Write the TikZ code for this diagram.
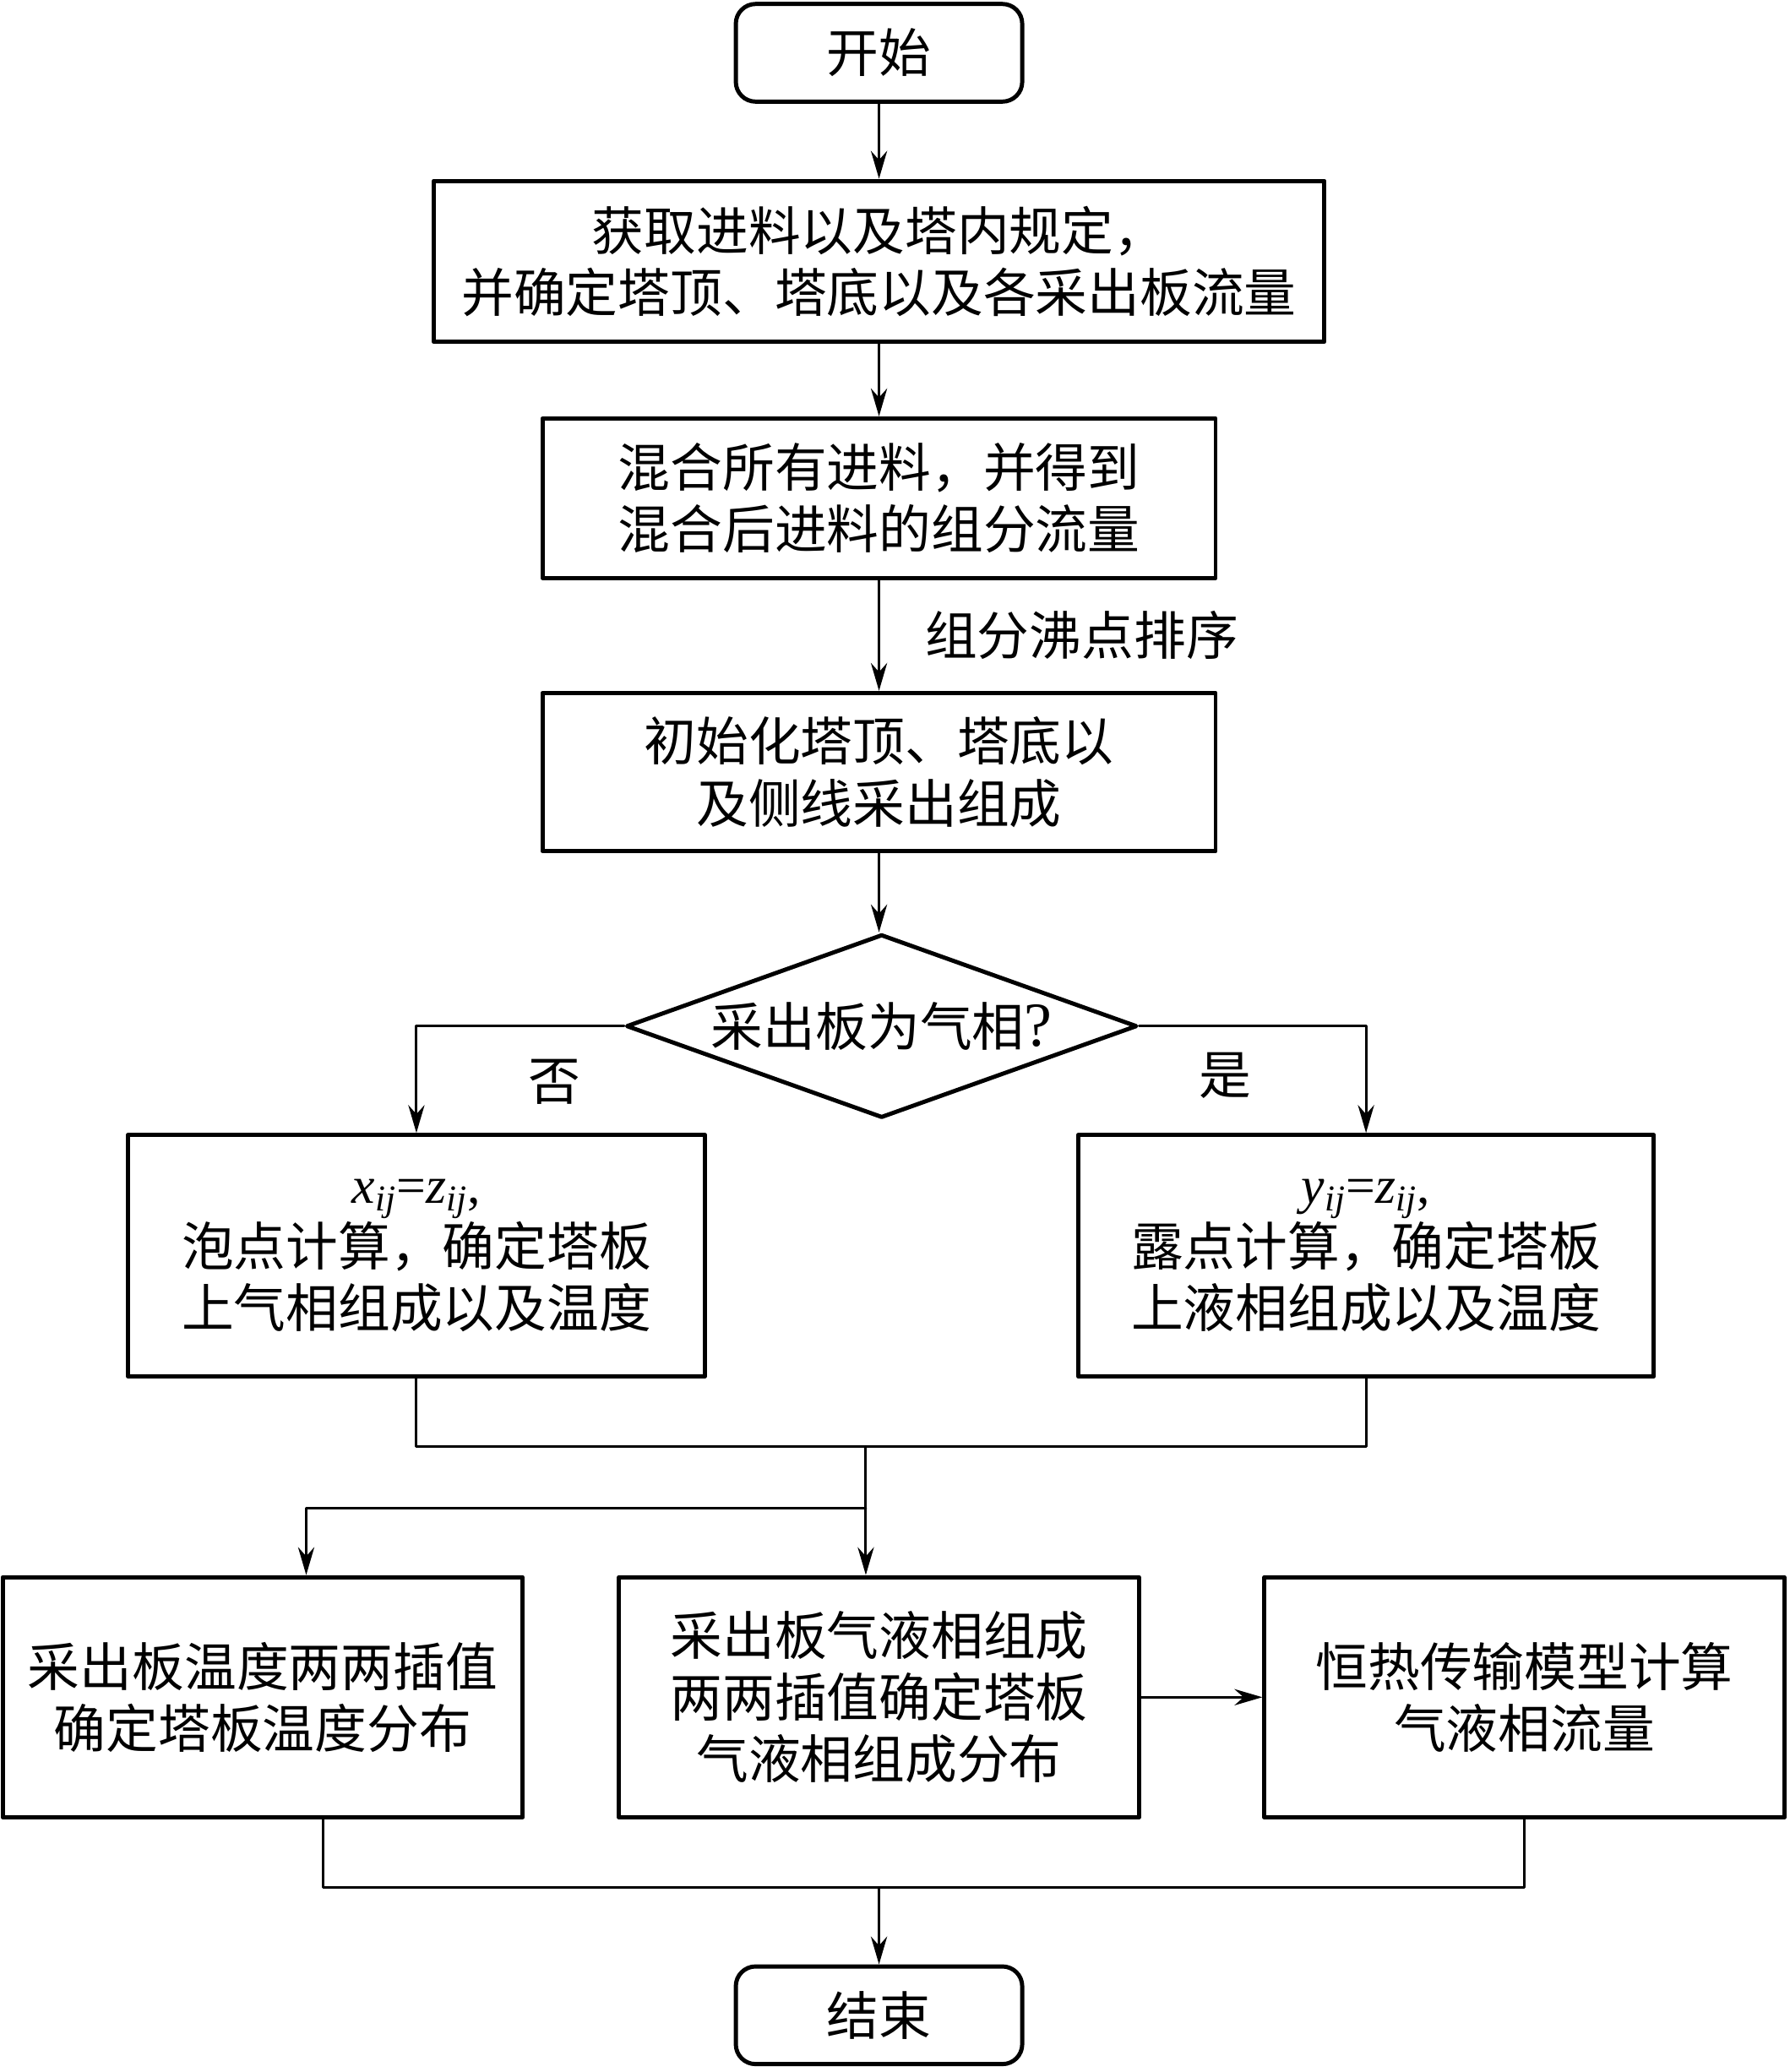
\documentclass[tikz,border=0pt]{standalone}
\usepackage{fontspec}
\setmainfont{Liberation Serif}
\newfontfamily\cjk{Noto Sans CJK SC}
\usepackage{tikz}
\usetikzlibrary{positioning}
\usetikzlibrary{shapes.geometric}
\usetikzlibrary{arrows.meta}

\newcommand{\pxu}{0.02cm}

\begin{document}
\begin{tikzpicture}[x=0.02cm, y=-0.02cm, line cap=round, line join=round,
    font=\cjk\fontsize{22.5}{26.7}\selectfont,
    box/.style={draw, line width=1.8pt, align=center, inner sep=0pt},
    term/.style={box, rounded corners=0.3cm, minimum width=217*\pxu, minimum height=74*\pxu},
    choice/.style={box, diamond, shape aspect=2.78, minimum width=387*\pxu, minimum height=139*\pxu},
    link/.style={line width=1.1pt},
    arrow/.style={link, -{Stealth[length=12pt, width=7pt]}}]
    % frame
    \useasboundingbox (0,0) rectangle (1356,1570);

    % main column
    \node[term] (start) at (666,40) {开始};
    \node[box, minimum width=675*\pxu, minimum height=122*\pxu] (feed) at (666,198)
        {获取进料以及塔内规定，\\并确定塔顶、塔底以及各采出板流量};
    \node[box, minimum width=510*\pxu, minimum height=121*\pxu] (mix) at (666,377.5)
        {混合所有进料，并得到\\混合后进料的组分流量};
    \node[box, minimum width=510*\pxu, minimum height=120*\pxu] (init) at (666,585)
        {初始化塔顶、塔底以\\及侧线采出组成};
    \node[choice] (phase) at (668,777.5) {采出板为气相{\rmfamily\fontsize{27}{27}\selectfont ?}};

    % two branches
    \node[box, minimum width=437*\pxu, minimum height=183*\pxu] (bubble) at (315.5,951.5)
        {{\rmfamily\textit{x}\textsubscript{\textit{ij}}=\textit{z}\textsubscript{\textit{ij}},}\\泡点计算，确定塔板\\上气相组成以及温度};
    \node[box, minimum width=436*\pxu, minimum height=183*\pxu] (dew) at (1035,951.5)
        {{\rmfamily\textit{y}\textsubscript{\textit{ij}}=\textit{z}\textsubscript{\textit{ij}},}\\露点计算，确定塔板\\上液相组成以及温度};
    \node (no) at (420,820) {否};
    \node (yes) at (928,815) {是};

    % bottom row
    \node[box, minimum width=394*\pxu, minimum height=182*\pxu] (temp) at (199,1286)
        {采出板温度两两插值\\确定塔板温度分布};
    \node[box, minimum width=394*\pxu, minimum height=182*\pxu] (comp) at (666,1286)
        {采出板气液相组成\\两两插值确定塔板\\气液相组成分布};
    \node[box, minimum width=394*\pxu, minimum height=182*\pxu] (flow) at (1155,1286)
        {恒热传输模型计算\\气液相流量};
    \node[term] (stop) at (666,1527) {结束};

    % junctions
    \coordinate (merge) at (656,1096);
    \coordinate (split) at (656,1143);
    \coordinate (gather) at (666,1430);

    % connectors
    \draw[arrow] (start) -- (feed);
    \draw[arrow] (feed) -- (mix);
    \draw[arrow] (mix) -- (init) node[midway, right=0.68cm, inner sep=0pt] (sort) {组分沸点排序};
    \draw[arrow] (init.south) -- (init.south |- phase.north);
    \draw[arrow] (phase.west) -| (bubble.north);
    \draw[arrow] (phase.east) -| (dew.north);
    \draw[link] (bubble.south) |- (merge) -| (dew.south);
    \draw[arrow] (merge) -- (merge |- comp.north);
    \draw[arrow] (split) -| ([xshift=33*\pxu]temp.north);
    \draw[arrow] (comp) -- (flow);
    \draw[link] ([xshift=46*\pxu]temp.south) |- (gather) -| (flow.south);
    \draw[arrow] (gather) -- (stop);
\end{tikzpicture}
\end{document}
